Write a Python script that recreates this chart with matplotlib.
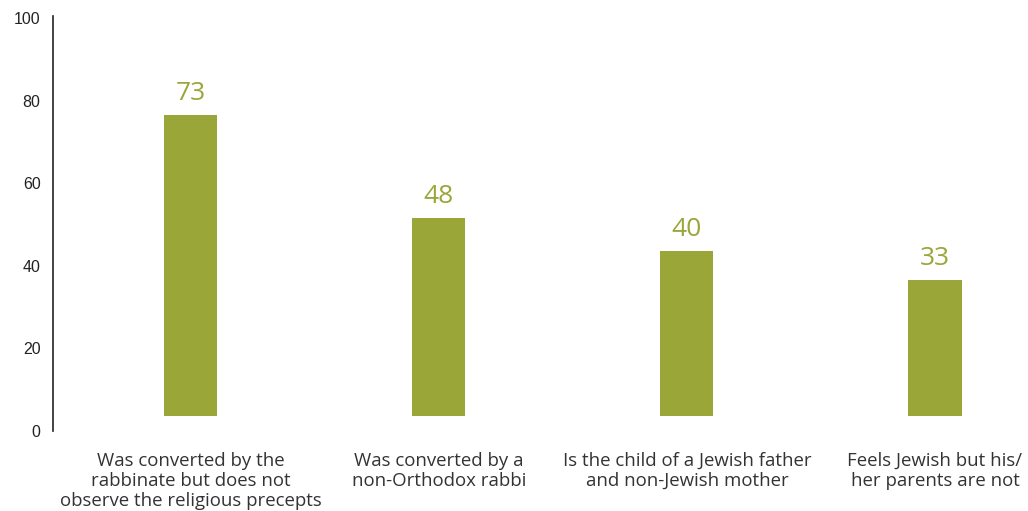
import matplotlib.pyplot as plt
import numpy as np

plt.rcParams['font.family'] = ['Open Sans', 'DejaVu Sans']

categories = ["Was converted by the\nrabbinate but does not\nobserve the religious precepts",
              "Was converted by a\nnon-Orthodox rabbi",
              "Is the child of a Jewish father\nand non-Jewish mother",
              "Feels Jewish but his/\nher parents are not"]
values = [73, 48, 40, 33]
yticks = [0, 20, 40, 60, 80, 100]

bar_color = '#9ba639'
base = 3.6  # bars in the original float slightly above zero

fig = plt.figure(figsize=(10.28, 5.11), dpi=100)
ax = fig.add_axes([53 / 1028, 1 - 431 / 511, 1 - 53 / 1028, (431 - 16) / 511])

x = np.arange(len(values))
ax.bar(x, values, width=0.214, bottom=base, color=bar_color)
for xi, v in zip(x, values):
    ax.text(xi, v + base + 2.1, str(v), ha='center', va='bottom',
            fontsize=19, color=bar_color)

ax.set_xlim(-0.556, 3.375)
ax.set_ylim(0, 100.5)
ax.set_yticks(yticks)
ax.set_yticklabels([str(t) for t in yticks], fontsize=11.5,
                   family=['Liberation Sans', 'DejaVu Sans'], color='#222222')
ax.tick_params(axis='y', length=0, pad=9)
ax.set_xticks(x)
ax.set_xticklabels(categories, fontsize=13.4, color='#333333', linespacing=1.15)
ax.tick_params(axis='x', length=0, pad=15)

for s in ['top', 'right', 'bottom']:
    ax.spines[s].set_visible(False)
ax.spines['left'].set_color('#222222')
ax.spines['left'].set_linewidth(1.2)

fig.savefig('out.png', dpi=100)
